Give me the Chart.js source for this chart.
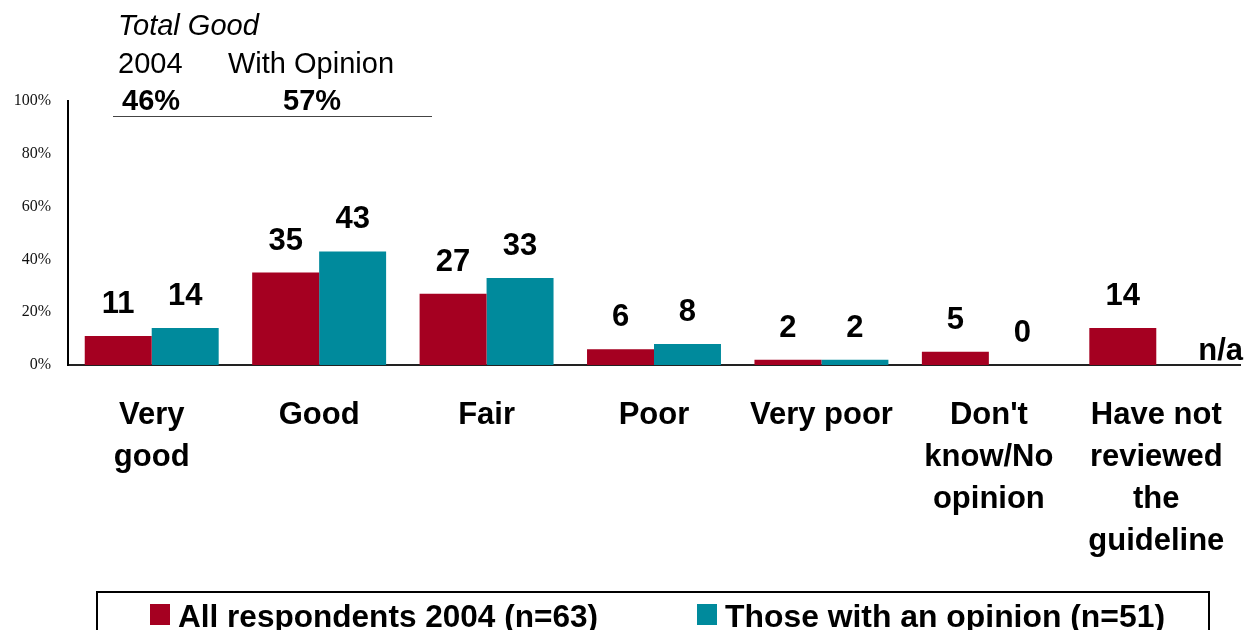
<!DOCTYPE html>
<html>
<head>
<meta charset="utf-8">
<script src="https://cdn.jsdelivr.net/npm/chart.js@4"></script>
<style>
  html, body { margin: 0; padding: 0; background: #fff; }
  #wrap { width: 1245px; height: 630px; position: relative; }
</style>
</head>
<body>
<div id="wrap"><canvas id="c" width="1245" height="630"></canvas></div>
<script>
// Rating categories (multi-line axis labels)
const categories = [
  ["Very", "good"],
  ["Good"],
  ["Fair"],
  ["Poor"],
  ["Very poor"],
  ["Don't", "know/No", "opinion"],
  ["Have not", "reviewed", "the", "guideline"]
];
// Percent of respondents per rating
const allRespondents = [11, 35, 27, 6, 2, 5, 14];
const withOpinion = [14, 43, 33, 8, 2, 0, null];
const seriesNames = ["All respondents 2004 (n=63)", "Those with an opinion (n=51)"];
const yTicks = [0, 20, 40, 60, 80, 100];

const RED = "#A50021";
const TEAL = "#008A9C";
const SANS = "'Liberation Sans', Arial, sans-serif";

// "Total Good" = Very good + Good
const totalGoodAll = allRespondents[0] + allRespondents[1];
const totalGoodOpinion = withOpinion[0] + withOpinion[1];

const overlay = {
  id: "overlay",
  afterDatasetsDraw(chart) {
    const ctx = chart.ctx;
    const area = chart.chartArea;
    ctx.save();
    // value labels above bars
    ctx.fillStyle = "#000";
    ctx.font = "bold 31px " + SANS;
    ctx.textAlign = "center";
    ctx.textBaseline = "alphabetic";
    chart.data.datasets.forEach((ds, di) => {
      const meta = chart.getDatasetMeta(di);
      meta.data.forEach((bar, i) => {
        const v = ds.data[i];
        if (v === null || v === undefined) {
          ctx.textAlign = "right";
          ctx.fillText("n/a", area.right + 3, area.bottom - 5);
          ctx.textAlign = "center";
          return;
        }
        ctx.fillText(String(v), bar.x, bar.y - 23);
      });
    });

    // "Total Good" summary block
    ctx.textAlign = "left";
    ctx.font = "italic 29px " + SANS;
    ctx.fillText("Total Good", 118, 35);
    ctx.font = "29px " + SANS;
    ctx.fillText("2004", 118, 73);
    ctx.fillText("With Opinion", 228, 73);
    ctx.font = "bold 29px " + SANS;
    ctx.fillText(totalGoodAll + "%", 122, 110);
    ctx.fillText(totalGoodOpinion + "%", 283, 110);
    ctx.strokeStyle = "#444";
    ctx.lineWidth = 1;
    ctx.beginPath();
    ctx.moveTo(113, 116.5);
    ctx.lineTo(432, 116.5);
    ctx.stroke();

    // legend box
    ctx.strokeStyle = "#000";
    ctx.lineWidth = 2;
    ctx.strokeRect(97, 592, 1112, 60);
    const items = [
      { x: 150, color: RED, text: seriesNames[0], w: 420 },
      { x: 697, color: TEAL, text: seriesNames[1], w: 440 }
    ];
    items.forEach(it => {
      ctx.fillStyle = it.color;
      ctx.fillRect(it.x, 604, 20, 21);
      ctx.fillStyle = "#000";
      ctx.font = "bold 32px " + SANS;
      const mw = ctx.measureText(it.text).width;
      ctx.save();
      ctx.translate(it.x + 28, 627);
      ctx.scale(it.w / mw, 1);
      ctx.textAlign = "left";
      ctx.fillText(it.text, 0, 0);
      ctx.restore();
    });
    ctx.restore();
  }
};

new Chart(document.getElementById("c"), {
  type: "bar",
  data: {
    labels: categories,
    datasets: [
      { label: seriesNames[0], data: allRespondents, backgroundColor: RED },
      { label: seriesNames[1], data: withOpinion, backgroundColor: TEAL }
    ]
  },
  options: {
    responsive: false,
    animation: false,
    devicePixelRatio: 1,
    layout: { padding: { top: 101, right: 5, left: 0, bottom: 0 } },
    datasets: { bar: { categoryPercentage: 0.8, barPercentage: 1.0 } },
    plugins: { legend: { display: false }, tooltip: { enabled: false } },
    scales: {
      x: {
        grid: { display: false, drawTicks: false },
        border: { display: true, color: "#222", width: 2 },
        ticks: {
          color: "#000",
          font: { family: SANS, size: 31, weight: "bold", lineHeight: 1.36 },
          padding: 29,
          maxRotation: 0,
          autoSkip: false
        },
        afterFit(scale) {
          scale.height = 265;
          scale.paddingLeft = 0;
          scale.paddingRight = 0;
        }
      },
      y: {
        min: 0,
        max: 100,
        afterBuildTicks(scale) { scale.ticks = yTicks.map(v => ({ value: v })); },
        grid: { display: false, drawTicks: false },
        border: { display: true, color: "#000", width: 2 },
        ticks: {
          color: "#111",
          font: { family: "'Liberation Serif', 'Times New Roman', serif", size: 16 },
          padding: 17,
          callback: v => v + "%"
        },
        afterFit(scale) { scale.width = 68; }
      }
    }
  },
  plugins: [overlay]
});
</script>
</body>
</html>
